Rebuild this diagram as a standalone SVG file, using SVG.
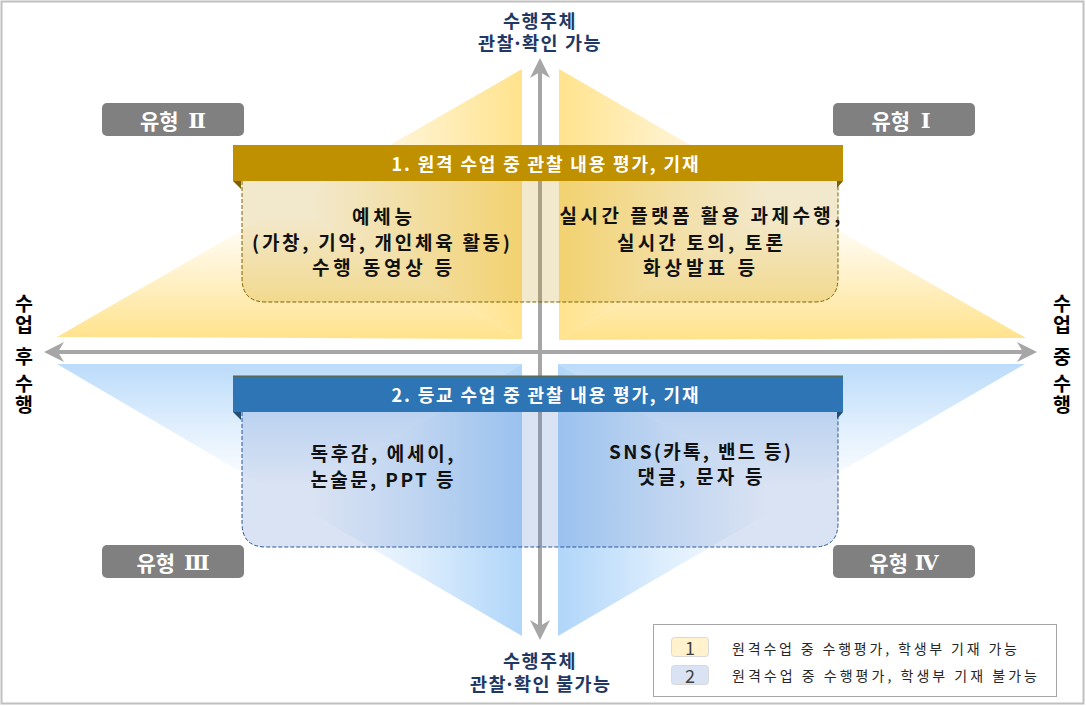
<svg xmlns="http://www.w3.org/2000/svg" width="1086" height="706" viewBox="0 0 1086 706">
<defs>
<style>
text{font-family:'Noto Sans CJK KR','Noto Sans',sans-serif;dominant-baseline:central}
.hdr{font-size:18px;font-weight:700;fill:#FFFFFF}
.body{font-size:19px;font-weight:700;fill:#111111}
.axis{font-size:18.5px;font-weight:700;fill:#1F3864}
.side{font-size:19.5px;font-weight:700;fill:#000000}
.type{font-size:21px;font-weight:700;fill:#FFFFFF}
.num{font-family:'DejaVu Serif','Liberation Serif',serif;font-weight:700}
.typebox{fill:#808080}
.leg{font-size:14px;fill:#262626}
.legnum{font-size:18px;fill:#404040}
.arrow{stroke:#A6A6A6;stroke-width:4;fill:none}
</style>
<marker id="ah" viewBox="0 0 20 20" markerUnits="userSpaceOnUse" markerWidth="20" markerHeight="20" refX="12" refY="10" orient="auto-start-reverse">
<path d="M0,0 L20,10 L0,20 L6,10 Z" fill="#A6A6A6"/>
</marker>
<linearGradient id="yV1" gradientUnits="userSpaceOnUse" x1="0" y1="338" x2="0" y2="203"><stop offset="0" stop-color="#FFD966" stop-opacity="0.75"/><stop offset="0.45" stop-color="#FFD966" stop-opacity="0.35"/><stop offset="0.9" stop-color="#FFD966" stop-opacity="0"/></linearGradient>
<linearGradient id="yH1" gradientUnits="userSpaceOnUse" x1="522" y1="0" x2="289" y2="0"><stop offset="0" stop-color="#FFD966" stop-opacity="0.75"/><stop offset="0.45" stop-color="#FFD966" stop-opacity="0.35"/><stop offset="0.9" stop-color="#FFD966" stop-opacity="0"/></linearGradient>
<linearGradient id="yH2" gradientUnits="userSpaceOnUse" x1="559" y1="0" x2="792" y2="0"><stop offset="0" stop-color="#FFD966" stop-opacity="0.75"/><stop offset="0.45" stop-color="#FFD966" stop-opacity="0.35"/><stop offset="0.9" stop-color="#FFD966" stop-opacity="0"/></linearGradient>
<linearGradient id="bV1" gradientUnits="userSpaceOnUse" x1="0" y1="364" x2="0" y2="500"><stop offset="0" stop-color="#8EC4F7" stop-opacity="0.6"/><stop offset="0.45" stop-color="#8EC4F7" stop-opacity="0.28"/><stop offset="0.9" stop-color="#8EC4F7" stop-opacity="0"/></linearGradient>
<linearGradient id="bH1" gradientUnits="userSpaceOnUse" x1="522" y1="0" x2="289" y2="0"><stop offset="0" stop-color="#8EC4F7" stop-opacity="0.7"/><stop offset="0.45" stop-color="#8EC4F7" stop-opacity="0.3"/><stop offset="0.9" stop-color="#8EC4F7" stop-opacity="0"/></linearGradient>
<linearGradient id="bH2" gradientUnits="userSpaceOnUse" x1="558" y1="0" x2="791" y2="0"><stop offset="0" stop-color="#8EC4F7" stop-opacity="0.7"/><stop offset="0.45" stop-color="#8EC4F7" stop-opacity="0.3"/><stop offset="0.9" stop-color="#8EC4F7" stop-opacity="0"/></linearGradient>
</defs>

<rect x="0" y="0" width="1086" height="706" fill="#FFFFFF"/>
<rect x="1.5" y="1.5" width="1082" height="702" fill="none" stroke="#C0C0C0" stroke-width="2"/>

<g id="quadrant-fans">
<polygon points="522,339 57,337 289,203" fill="url(#yV1)"/>
<polygon points="522,339 522,69 289,203" fill="url(#yH1)"/>
<polygon points="559,340 1026,338 792,204" fill="url(#yV1)"/>
<polygon points="559,340 559,69 792,204" fill="url(#yH2)"/>
<polygon points="522,364 57,364 289,500" fill="url(#bV1)"/>
<polygon points="522,364 522,636 289,500" fill="url(#bH1)"/>
<polygon points="558,364 1025,364 791,500" fill="url(#bV1)"/>
<polygon points="558,364 558,636 791,500" fill="url(#bH2)"/>
</g>

<g id="connectors">
<line class="arrow" x1="52" y1="352" x2="1029" y2="352" marker-start="url(#ah)" marker-end="url(#ah)"/>
<line class="arrow" x1="540" y1="66" x2="540" y2="632" marker-start="url(#ah)" marker-end="url(#ah)"/>
</g>

<g id="box-remote">
<path d="M242,181 V278 Q242,302 266,302 H814 Q838,302 838,278 V181 Z" fill="#BF9000" fill-opacity="0.2"/>
<path d="M242,181 V278 Q242,302 266,302 H814 Q838,302 838,278 V181" fill="none" stroke="#7F6000" stroke-width="1" stroke-dasharray="4,2"/>
<rect x="233" y="145" width="610" height="36" fill="#BF9000"/>
<polygon points="233,181 241,181 241,189" fill="#7F6000"/>
<polygon points="843,181 837,181 837,188" fill="#7F6000"/>
<text class="hdr" x="545" y="163" text-anchor="middle" textLength="307" lengthAdjust="spacing">1. 원격 수업 중 관찰 내용 평가, 기재</text>
<text class="body" x="382" y="215" text-anchor="middle" textLength="60" lengthAdjust="spacing">예체능</text>
<text class="body" x="381" y="241" text-anchor="middle" textLength="258" lengthAdjust="spacing">(가창, 기악, 개인체육 활동)</text>
<text class="body" x="382" y="266" text-anchor="middle" textLength="140" lengthAdjust="spacing">수행 동영상 등</text>
<text class="body" x="700" y="214" text-anchor="middle" textLength="281" lengthAdjust="spacing">실시간 플랫폼 활용 과제수행,</text>
<text class="body" x="700" y="241" text-anchor="middle" textLength="166" lengthAdjust="spacing">실시간 토의, 토론</text>
<text class="body" x="699" y="266" text-anchor="middle" textLength="112" lengthAdjust="spacing">화상발표 등</text>
</g>

<g id="box-school">
<path d="M242,412 V523 Q242,547 266,547 H814 Q838,547 838,523 V412 Z" fill="#4472C4" fill-opacity="0.2"/>
<path d="M242,412 V523 Q242,547 266,547 H814 Q838,547 838,523 V412" fill="none" stroke="#2F5597" stroke-width="1" stroke-dasharray="4,2"/>
<rect x="233" y="376" width="610" height="36" fill="#2E75B6"/>
<line x1="233" y1="376" x2="843" y2="376" stroke="#7F6000" stroke-width="1.2"/>
<polygon points="233,412 241,412 241,420" fill="#1F4E79"/>
<polygon points="843,412 837,412 837,419" fill="#1F4E79"/>
<text class="hdr" x="545" y="394" text-anchor="middle" textLength="307" lengthAdjust="spacing">2. 등교 수업 중 관찰 내용 평가, 기재</text>
<text class="body" x="382" y="452" text-anchor="middle" textLength="143" lengthAdjust="spacing">독후감, 에세이,</text>
<text class="body" x="382" y="478" text-anchor="middle" textLength="143" lengthAdjust="spacing">논술문, PPT 등</text>
<text class="body" x="700" y="450" text-anchor="middle" textLength="182" lengthAdjust="spacing">SNS(카톡, 밴드 등)</text>
<text class="body" x="700" y="475" text-anchor="middle" textLength="125" lengthAdjust="spacing">댓글, 문자 등</text>
</g>

<g id="type-2">
<rect class="typebox" x="102" y="103" width="142" height="33" rx="5"/>
<text class="type" x="173" y="120" text-anchor="middle">유형 <tspan class="num" dx="5">Ⅱ</tspan></text>
</g>
<g id="type-1">
<rect class="typebox" x="833" y="103" width="142" height="33" rx="5"/>
<text class="type" x="901" y="120" text-anchor="middle">유형 <tspan class="num" dx="6">Ⅰ</tspan></text>
</g>
<g id="type-3">
<rect class="typebox" x="102" y="545" width="142" height="33" rx="5"/>
<text class="type" x="173" y="562" text-anchor="middle">유형 <tspan class="num" dx="4">Ⅲ</tspan></text>
</g>
<g id="type-4">
<rect class="typebox" x="833" y="545" width="142" height="33" rx="5"/>
<text class="type" x="904" y="562" text-anchor="middle">유형 <tspan class="num" dx="2">Ⅳ</tspan></text>
</g>

<g id="axis-top">
<text class="axis" x="503 521.5 540 558.5 577 478 496.5 512 522 540.5 559 565 583.5" y="20 20 20 20 20 42 42 42 42 42 42 42 42">수행주체 관찰·확인 가능</text>
</g>
<g id="axis-bottom">
<text class="axis" x="503 521.5 540 558.5 577 470 488.5 504 514 532.5 551 556 574.5 593" y="660 660 660 660 660 683 683 683 683 683 683 683 683 683">수행주체 관찰·확인 불가능</text>
</g>
<g id="axis-left">
<text class="side" text-anchor="middle" x="24 24 24 24 24 24 24" y="302 323 340 355 370 382 403">수업 후 수행</text>
</g>
<g id="axis-right">
<text class="side" text-anchor="middle" x="1062 1062 1062 1062 1062 1062 1062" y="302 323 340 355 370 382 403">수업 중 수행</text>
</g>

<g id="legend">
<rect x="653.5" y="624.5" width="403" height="72" fill="#FFFFFF" stroke="#A6A6A6" stroke-width="1"/>
<rect x="671.5" y="637.5" width="37" height="19" rx="3" fill="#FFF2CC" stroke="#D9D9D9" stroke-width="1"/>
<text class="legnum" x="690" y="647" text-anchor="middle">1</text>
<text class="leg" x="732" y="648" textLength="285" lengthAdjust="spacing">원격수업 중 수행평가, 학생부 기재 가능</text>
<rect x="671.5" y="665.5" width="37" height="19" rx="3" fill="#DAE3F3" stroke="#D9D9D9" stroke-width="1"/>
<text class="legnum" x="690" y="675" text-anchor="middle">2</text>
<text class="leg" x="732" y="675" textLength="305" lengthAdjust="spacing">원격수업 중 수행평가, 학생부 기재 불가능</text>
</g>
</svg>
